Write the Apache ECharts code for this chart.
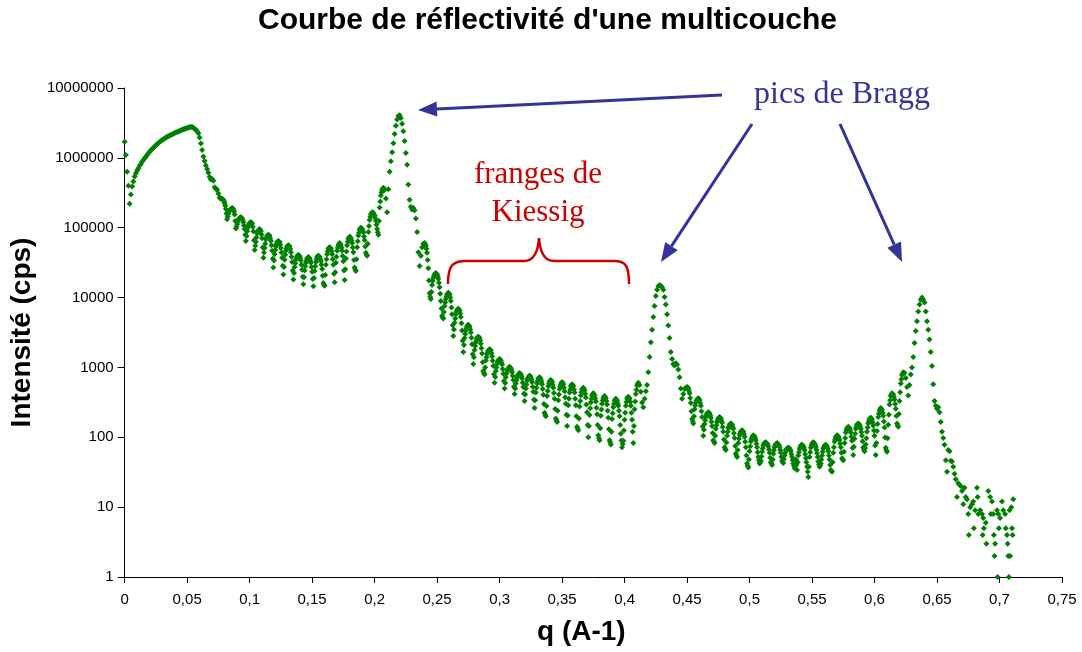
<!DOCTYPE html>
<html>
<head>
<meta charset="utf-8">
<script src="https://cdn.jsdelivr.net/npm/echarts@6/dist/echarts.min.js"></script>
<style>
  html, body { margin: 0; padding: 0; background: #ffffff; }
  #chart { width: 1082px; height: 652px; }
</style>
</head>
<body>
<div id="chart"></div>
<script>
// Measured reflectivity scan: pairs of [q (A-1), intensity (cps)], split by region.
const plateau = [
  [0.000,1.7e6],[0.001,1.1e6],[0.002,6.3e5],[0.003,4.0e5],[0.004,2.2e5],[0.005,3.0e5],[0.006,3.9e5],[0.007,4.6e5],[0.008,5.4e5],[0.009,6.0e5],
  [0.010,6.6e5],[0.011,7.1e5],[0.012,7.7e5],[0.013,8.2e5],[0.014,8.8e5],[0.015,9.3e5],[0.016,9.9e5],[0.017,1.04e6],[0.018,1.10e6],[0.019,1.16e6],
  [0.020,1.22e6],[0.021,1.28e6],[0.022,1.34e6],[0.023,1.40e6],[0.024,1.46e6],[0.025,1.52e6],[0.026,1.57e6],[0.027,1.63e6],[0.028,1.69e6],[0.029,1.75e6],
  [0.030,1.80e6],[0.031,1.85e6],[0.032,1.90e6],[0.033,1.95e6],[0.034,2.00e6],[0.035,2.04e6],[0.036,2.09e6],[0.037,2.13e6],[0.038,2.18e6],[0.039,2.22e6],
  [0.040,2.26e6],[0.041,2.30e6],[0.042,2.35e6],[0.043,2.39e6],[0.044,2.43e6],[0.045,2.48e6],[0.046,2.52e6],[0.047,2.56e6],[0.048,2.60e6],[0.049,2.64e6],
  [0.050,2.68e6],[0.051,2.71e6],[0.052,2.74e6],[0.053,2.76e6],[0.054,2.76e6],[0.055,2.70e6],[0.056,2.62e6],[0.057,2.52e6],[0.058,2.40e6],[0.059,2.25e6],
  [0.060,1.95e6],[0.061,1.60e6],[0.062,1.30e6],[0.063,1.05e6],[0.064,9.0e5],[0.065,7.8e5],[0.066,6.9e5],[0.067,6.1e5],[0.068,5.3e5],[0.069,4.9e5],
  [0.070,5.0e5],[0.071,4.7e5],[0.072,3.8e5],[0.073,3.6e5],[0.074,3.5e5],[0.075,3.1e5]
];

const lowFringes = [
  [0.076,2.69e5],[0.0765,2.66e5],[0.077,2.63e5],[0.0775,2.60e5],[0.078,2.57e5],[0.0785,2.55e5],[0.079,2.51e5],[0.0795,2.40e5],
  [0.080,2.24e5],[0.0805,2.06e5],[0.081,1.86e5],[0.0815,1.60e5],[0.082,1.32e5],[0.0825,1.45e5],[0.083,1.58e5],[0.0835,1.70e5],
  [0.084,1.78e5],[0.0845,1.83e5],[0.085,1.86e5],[0.0855,1.89e5],[0.086,1.91e5],[0.0865,1.88e5],[0.087,1.82e5],[0.0875,1.70e5],
  [0.088,1.55e5],[0.0885,1.25e5],[0.089,9.77e4],[0.0895,1.03e5],[0.090,1.12e5],[0.0905,1.21e5],[0.091,1.29e5],[0.0915,1.34e5],
  [0.092,1.38e5],[0.0925,1.40e5],[0.093,1.41e5],[0.0935,1.39e5],[0.094,1.35e5],[0.0945,1.28e5],[0.095,1.20e5],[0.0955,1.08e5],
  [0.096,9.55e4],[0.0965,7.9e4],[0.097,6.46e4],[0.0975,7.6e4],[0.098,8.91e4],[0.0985,9.9e4],[0.099,1.07e5],[0.0995,1.13e5],
  [0.100,1.17e5],[0.1005,1.19e5],[0.101,1.20e5],[0.1015,1.18e5],[0.102,1.15e5],[0.1025,1.03e5],[0.103,8.91e4],[0.1035,6.6e4],
  [0.104,4.79e4],[0.1045,5.5e4],[0.105,6.31e4],[0.1055,7.3e4],[0.106,8.32e4],[0.1065,8.8e4],[0.107,9.12e4],[0.1075,9.35e4],
  [0.108,9.55e4],[0.1085,9.3e4],[0.109,8.91e4],[0.1095,8.0e4],[0.110,7.08e4],[0.1105,5.2e4],[0.111,3.72e4],[0.1115,4.4e4],
  [0.112,5.13e4],[0.1125,5.9e4],[0.113,6.76e4],[0.1135,7.2e4],[0.114,7.59e4],[0.1145,7.8e4],[0.115,7.94e4],[0.1155,7.8e4],
  [0.116,7.59e4],[0.1165,7.0e4],[0.117,6.46e4],[0.1175,5.6e4],[0.118,4.68e4],[0.1185,3.6e4],[0.119,2.69e4],[0.1195,3.4e4],
  [0.120,4.17e4],[0.1205,4.8e4],[0.121,5.37e4],[0.1215,5.8e4],[0.122,6.17e4],[0.1225,6.35e4],[0.123,6.46e4],[0.1235,6.35e4],
  [0.124,6.17e4],[0.1245,5.7e4],[0.125,5.13e4],[0.1255,4.4e4],[0.126,3.72e4],[0.1265,2.85e4],[0.127,2.14e4],[0.1275,2.75e4],
  [0.128,3.47e4],[0.1285,4.1e4],[0.129,4.68e4],[0.1295,5.05e4],[0.130,5.37e4],[0.1305,5.52e4],[0.131,5.62e4],[0.1315,5.52e4],
  [0.132,5.37e4],[0.1325,4.95e4],[0.133,4.47e4],[0.1335,3.85e4],[0.134,3.24e4],[0.1345,2.45e4],[0.135,1.82e4],[0.1355,2.25e4],
  [0.136,2.75e4],[0.1365,3.1e4],[0.137,3.47e4],[0.1375,3.7e4],[0.138,3.89e4],[0.1385,4.0e4],[0.139,4.07e4],[0.1395,4.0e4],
  [0.140,3.89e4],[0.1405,3.65e4],[0.141,3.39e4],[0.1415,2.95e4],[0.142,2.51e4],[0.1425,1.98e4],[0.143,1.55e4],[0.1435,1.95e4],
  [0.144,2.45e4],[0.1445,2.8e4],[0.145,3.16e4],[0.1455,3.4e4],[0.146,3.63e4],[0.1465,3.73e4],[0.147,3.80e4],[0.1475,3.73e4],
  [0.148,3.63e4],[0.1485,3.4e4],[0.149,3.16e4],[0.1495,2.75e4],[0.150,2.34e4],[0.1505,1.85e4],[0.151,1.45e4],[0.1515,1.9e4],
  [0.152,2.40e4],[0.1525,2.8e4],[0.153,3.24e4],[0.1535,3.55e4],[0.154,3.80e4],[0.1545,3.9e4],[0.155,3.98e4],[0.1555,3.9e4],
  [0.156,3.80e4],[0.1565,3.55e4],[0.157,3.31e4],[0.1575,2.95e4],[0.158,2.57e4],[0.1585,2.05e4],[0.159,1.62e4],[0.1595,1.52e4],
  [0.160,1.48e4],[0.1605,2.1e4],[0.161,2.95e4],[0.1615,3.55e4],[0.162,4.17e4],[0.1625,4.6e4],[0.163,5.01e4],[0.1635,5.15e4],
  [0.164,5.25e4],[0.1645,5.15e4],[0.165,5.01e4],[0.1655,4.6e4],[0.166,4.17e4],[0.1665,3.55e4],[0.167,2.95e4],[0.1675,2.2e4],
  [0.168,1.66e4],[0.1685,2.3e4],[0.169,3.16e4],[0.1695,3.85e4],[0.170,4.68e4],[0.1705,5.15e4],[0.171,5.62e4],[0.1715,5.85e4],
  [0.172,6.03e4],[0.1725,5.85e4],[0.173,5.62e4],[0.1735,5.15e4],[0.174,4.68e4],[0.1745,3.95e4],[0.175,3.31e4],[0.1755,2.45e4],
  [0.176,1.78e4],[0.1765,2.55e4],[0.177,3.63e4],[0.1775,4.55e4],[0.178,5.62e4],[0.1785,6.3e4],[0.179,6.92e4],[0.1795,7.2e4],
  [0.180,7.41e4],[0.1805,7.3e4],[0.181,7.08e4],[0.1815,6.55e4],[0.182,6.03e4],[0.1825,5.2e4],[0.183,4.47e4],[0.1835,3.45e4],
  [0.184,2.69e4],[0.1845,2.5e4],[0.185,2.40e4],[0.1855,3.55e4],[0.186,5.25e4],[0.1865,6.4e4],[0.187,7.76e4],[0.1875,8.5e4],
  [0.188,9.33e4],[0.1885,9.7e4],[0.189,1.00e5],[0.1895,9.8e4],[0.190,9.55e4],[0.1905,9.0e4],[0.191,8.51e4],[0.1915,7.5e4],
  [0.192,6.61e4],[0.1925,5.4e4],[0.193,4.37e4],[0.1935,4.1e4],[0.194,3.98e4],[0.1945,5.9e4],[0.195,8.71e4],[0.1955,1.06e5],
  [0.196,1.29e5],[0.1965,1.42e5],[0.197,1.55e5],[0.1975,1.61e5],[0.198,1.66e5],[0.1985,1.64e5],[0.199,1.62e5],[0.1995,1.55e5],
  [0.200,1.48e5],[0.2005,1.37e5],[0.201,1.26e5],[0.2015,1.10e5],[0.202,9.55e4],[0.2025,8.6e4],[0.203,7.94e4],[0.2035,1.25e5],
  [0.204,1.95e5],[0.2045,2.37e5],[0.205,2.88e5],[0.2055,3.2e5],[0.206,3.47e5],[0.2065,3.6e5],[0.207,3.72e5]
];

const firstBragg = [
  [0.208,3.47e5],[0.209,2.63e5],[0.210,1.66e5],[0.211,3.55e5],[0.212,6.31e5],[0.213,8.91e5],[0.214,1.20e6],[0.215,1.62e6],[0.216,2.19e6],[0.217,2.88e6],
  [0.218,3.55e6],[0.219,3.98e6],[0.220,4.07e6],[0.221,3.72e6],[0.222,3.09e6],[0.223,2.40e6],[0.224,1.74e6],[0.225,1.17e6],[0.226,7.94e5],[0.227,4.17e5],
  [0.228,2.51e5],[0.229,2.00e5],[0.230,1.82e5],[0.231,1.91e5],[0.232,1.78e5],[0.233,1.35e5],[0.234,8.71e4],[0.235,4.47e4],[0.236,2.82e4],[0.237,3.98e4],
  [0.238,5.25e4],[0.239,5.89e4],[0.240,6.03e4]
];

const midFringes = [
  [0.2405,5.8e4],[0.241,5.50e4],[0.2415,5.0e4],[0.242,4.37e4],[0.2425,3.45e4],[0.243,2.63e4],[0.2435,1.75e4],[0.244,1.15e4],
  [0.2445,1.03e4],[0.245,9550],[0.2455,1.2e4],[0.246,1.51e4],[0.2465,1.72e4],[0.247,1.91e4],[0.2475,2.03e4],[0.248,2.14e4],
  [0.2485,2.2e4],[0.249,2.24e4],[0.2495,2.2e4],[0.250,2.14e4],[0.2505,2.0e4],[0.251,1.86e4],[0.2515,1.63e4],[0.252,1.41e4],
  [0.2525,1.13e4],[0.253,8910],[0.2535,7000],[0.254,5500],[0.2545,5200],[0.255,5010],[0.2555,6200],[0.256,7590],
  [0.2565,8500],[0.257,9550],[0.2575,1.03e4],[0.258,1.10e4],[0.2585,1.14e4],[0.259,1.17e4],[0.2595,1.14e4],[0.260,1.10e4],
  [0.2605,1.0e4],[0.261,8910],[0.2615,7200],[0.262,5750],[0.2625,4000],[0.263,2820],[0.2635,3500],[0.264,4370],
  [0.2645,5000],[0.265,5750],[0.2655,6200],[0.266,6610],[0.2665,6800],[0.267,6920],[0.2675,6750],[0.268,6460],
  [0.2685,5900],[0.269,5250],[0.2695,4300],[0.270,3390],[0.2705,2400],[0.271,1660],[0.2715,2100],[0.272,2630],
  [0.2725,3000],[0.273,3390],[0.2735,3650],[0.274,3890],[0.2745,4000],[0.275,4070],[0.2755,3950],[0.276,3800],
  [0.2765,3500],[0.277,3160],[0.2775,2650],[0.278,2140],[0.2785,1550],[0.279,1120],[0.2795,1400],[0.280,1780],
  [0.2805,2030],[0.281,2290],[0.2815,2460],[0.282,2630],[0.2825,2700],[0.283,2750],[0.2835,2700],[0.284,2630],
  [0.2845,2420],[0.285,2190],[0.2855,1880],[0.286,1580],[0.2865,1190],[0.287,891],[0.2875,830],[0.288,794],
  [0.2885,1000],[0.289,1260],[0.2895,1400],[0.290,1550],[0.2905,1650],[0.291,1740],[0.2915,1790],[0.292,1820],
  [0.2925,1790],[0.293,1740],[0.2935,1600],[0.294,1450],[0.2945,1250],[0.295,1050],[0.2955,800],[0.296,603],
  [0.2965,730],[0.297,891],[0.2975,1000],[0.298,1120],[0.2985,1190],[0.299,1260],[0.2995,1300],[0.300,1320],
  [0.3005,1300],[0.301,1260],[0.3015,1180],[0.302,1100],[0.3025,950],[0.303,813],[0.3035,640],[0.304,501],
  [0.3045,600],[0.305,724],[0.3055,810],[0.306,891],[0.3065,935],[0.307,977],[0.3075,1000],[0.308,1020],
  [0.3085,1000],[0.309,977],[0.3095,915],[0.310,851],[0.3105,760],[0.311,661],[0.3115,530],[0.312,417],
  [0.3125,500],[0.313,589],[0.3135,655],[0.314,724],[0.3145,760],[0.315,794],[0.3155,815],[0.316,832],
  [0.3165,815],[0.317,794],[0.3175,745],[0.318,692],[0.3185,605],[0.319,525],[0.3195,420],[0.320,331],
  [0.3205,410],[0.321,501],[0.3215,570],[0.322,646],[0.3225,690],[0.323,724],[0.3235,745],[0.324,759],
  [0.3245,745],[0.325,724],[0.3255,670],[0.326,617],[0.3265,530],[0.327,447],[0.3275,345],[0.328,263],
  [0.3285,340],[0.329,437],[0.3295,510],[0.330,589],[0.3305,640],[0.331,692],[0.3315,710],[0.332,724],
  [0.3325,705],[0.333,676],[0.3335,630],[0.334,575],[0.3345,490],[0.335,407],[0.3355,300],[0.336,224],
  [0.3365,210],[0.337,200],[0.3375,280],[0.338,389],[0.3385,460],[0.339,537],[0.3395,585],[0.340,631],
  [0.3405,650],[0.341,661],[0.3415,645],[0.342,617],[0.3425,565],[0.343,513],[0.3435,430],[0.344,355],
  [0.3445,255],[0.345,186],[0.3455,175],[0.346,166],[0.3465,240],[0.347,339],[0.3475,410],[0.348,490],
  [0.3485,535],[0.349,575],[0.3495,600],[0.350,617],[0.3505,600],[0.351,575],[0.3515,515],[0.352,457],
  [0.3525,375],[0.353,302],[0.3535,210],[0.354,145],[0.3545,205],[0.355,288],[0.3555,355],[0.356,437],
  [0.3565,485],[0.357,537],[0.3575,560],[0.358,575],[0.3585,560],[0.359,537],[0.3595,485],[0.360,437],
  [0.3605,355],[0.361,288],[0.3615,200],[0.362,141],[0.3625,133],[0.363,126],[0.3635,185],[0.364,275],
  [0.3645,330],[0.365,398],[0.3655,440],[0.366,479],[0.3665,500],[0.367,513],[0.3675,495],[0.368,468],
  [0.3685,420],[0.369,372],[0.3695,295],[0.370,229],[0.3705,150],[0.371,100],[0.3715,145],[0.372,209],
  [0.3725,260],[0.373,316],[0.3735,355],[0.374,398],[0.3745,415],[0.375,427],[0.3755,415],[0.376,398],
  [0.3765,360],[0.377,324],[0.3775,265],[0.378,214],[0.3785,150],[0.379,107],[0.3795,98],[0.380,91],
  [0.3805,135],[0.381,204],[0.3815,250],[0.382,302],[0.3825,335],[0.383,363],[0.3835,378],[0.384,389],
  [0.3845,378],[0.385,363],[0.3855,330],[0.386,295],[0.3865,240],[0.387,191],[0.3875,130],[0.388,91],
  [0.3885,85],[0.389,79],[0.3895,120],[0.390,182],[0.3905,220],[0.391,269],[0.3915,300],[0.392,331],
  [0.3925,345],[0.393,355],[0.3935,345],[0.394,331],[0.3945,305],[0.395,282],[0.3955,240],[0.396,200],
  [0.3965,150],[0.397,112],[0.3975,90],[0.398,72],[0.3985,80],[0.399,89],[0.3995,125],[0.400,178],
  [0.4005,225],[0.401,282],[0.4015,320],[0.402,355],[0.4025,370],[0.403,380],[0.4035,370],[0.404,355],
  [0.4045,320],[0.405,282],[0.4055,225],[0.406,178],[0.4065,120],[0.407,83],[0.4075,145],[0.408,251],
  [0.4085,325],[0.409,417],[0.4095,480],[0.410,550],[0.4105,580],[0.411,603]
];

const secondBragg = [
  [0.412,562],[0.413,447],[0.414,316],[0.415,269],[0.416,355],[0.417,457],[0.418,562],[0.419,851],[0.420,1410],[0.421,2290],
  [0.422,3470],[0.423,5250],[0.424,7590],[0.425,10500],[0.426,12900],[0.427,14500],[0.428,15100],[0.429,14800],[0.430,14100],[0.431,12900],
  [0.432,10200],[0.433,7940],[0.434,5750],[0.435,3980],[0.436,2630],[0.437,1660],[0.438,1320],[0.439,1120],[0.440,1070],[0.441,1150],
  [0.442,1100],[0.443,933],[0.444,724],[0.445,501],[0.446,355],[0.447,417],[0.448,490],[0.449,513],[0.450,525]
];

const highFringes = [
  [0.4505,515],[0.451,501],[0.4515,465],[0.452,427],[0.4525,365],[0.453,309],[0.4535,235],[0.454,182],
  [0.4545,168],[0.455,158],[0.4555,200],[0.456,251],[0.4565,285],[0.457,316],[0.4575,332],[0.458,347],
  [0.4585,356],[0.459,363],[0.4595,352],[0.460,339],[0.4605,310],[0.461,282],[0.4615,235],[0.462,195],
  [0.4625,143],[0.463,105],[0.4635,128],[0.464,155],[0.4645,175],[0.465,195],[0.4655,208],[0.466,219],
  [0.4665,225],[0.467,229],[0.4675,225],[0.468,219],[0.4685,205],[0.469,191],[0.4695,167],[0.470,145],
  [0.4705,115],[0.471,91],[0.4715,86],[0.472,83],[0.4725,105],[0.473,132],[0.4735,149],[0.474,166],
  [0.4745,176],[0.475,186],[0.4755,191],[0.476,195],[0.4765,191],[0.477,186],[0.4775,174],[0.478,162],
  [0.4785,140],[0.479,120],[0.4795,93],[0.480,72],[0.4805,68],[0.481,66],[0.4815,84],[0.482,105],
  [0.4825,120],[0.483,135],[0.4835,143],[0.484,151],[0.4845,155],[0.485,158],[0.4855,155],[0.486,151],
  [0.4865,142],[0.487,132],[0.4875,114],[0.488,98],[0.4885,75],[0.489,58],[0.4895,55],[0.490,52],
  [0.4905,66],[0.491,83],[0.4915,95],[0.492,107],[0.4925,114],[0.493,120],[0.4935,123],[0.494,126],
  [0.4945,123],[0.495,120],[0.4955,111],[0.496,102],[0.4965,86],[0.497,72],[0.4975,55],[0.498,42],
  [0.4985,39],[0.499,37],[0.4995,48],[0.500,63],[0.5005,74],[0.501,87],[0.5015,94],[0.502,100],
  [0.5025,104],[0.503,107],[0.5035,105],[0.504,102],[0.5045,97],[0.505,91],[0.5055,81],[0.506,72],
  [0.5065,61],[0.507,52],[0.5075,47],[0.508,42],[0.5085,44],[0.509,46],[0.5095,53],[0.510,62],
  [0.5105,69],[0.511,76],[0.5115,80],[0.512,83],[0.5125,84],[0.513,85],[0.5135,83],[0.514,81],
  [0.5145,78],[0.515,74],[0.5155,67],[0.516,60],[0.5165,51],[0.517,44],[0.5175,42],[0.518,40],
  [0.5185,48],[0.519,58],[0.5195,65],[0.520,72],[0.5205,76],[0.521,79],[0.5215,81],[0.522,83],
  [0.5225,81],[0.523,79],[0.5235,76],[0.524,72],[0.5245,66],[0.525,60],[0.5255,52],[0.526,46],
  [0.5265,44],[0.527,43],[0.5275,49],[0.528,55],[0.5285,60],[0.529,65],[0.5295,67],[0.530,69],
  [0.5305,70],[0.531,71],[0.5315,70],[0.532,69],[0.5325,66],[0.533,63],[0.5335,57],[0.534,52],
  [0.5345,47],[0.535,42],[0.5355,39],[0.536,36],[0.5365,41],[0.537,48],[0.5375,40],[0.538,34],
  [0.5385,44],[0.539,55],[0.5395,61],[0.540,68],[0.5405,72],[0.541,76],[0.5415,77],[0.542,78],
  [0.5425,76],[0.543,74],[0.5435,70],[0.544,65],[0.5445,57],[0.545,50],[0.5455,44],[0.546,38],
  [0.5465,32],[0.547,27],[0.5475,38],[0.548,52],[0.5485,61],[0.549,71],[0.5495,76],[0.550,81],
  [0.5505,83],[0.551,85],[0.5515,83],[0.552,81],[0.5525,77],[0.553,72],[0.5535,66],[0.554,59],
  [0.5545,52],[0.555,45],[0.5555,41],[0.556,38],[0.5565,40],[0.557,42],[0.5575,48],[0.558,55],
  [0.5585,62],[0.559,69],[0.5595,72],[0.560,76],[0.5605,77],[0.561,78],[0.5615,76],[0.562,74],
  [0.5625,69],[0.563,63],[0.5635,55],[0.564,48],[0.5645,40],[0.565,34],[0.5655,33],[0.566,32],
  [0.5665,44],[0.567,60],[0.5675,72],[0.568,87],[0.5685,93],[0.569,100],[0.5695,103],[0.570,107],
  [0.5705,105],[0.571,102],[0.5715,97],[0.572,91],[0.5725,81],[0.573,72],[0.5735,60],[0.574,50],
  [0.5745,48],[0.575,47],[0.5755,62],[0.576,83],[0.5765,98],[0.577,117],[0.5775,126],[0.578,135],
  [0.5785,138],[0.579,141],[0.5795,138],[0.580,135],[0.5805,126],[0.581,117],[0.5815,102],[0.582,89],
  [0.5825,70],[0.583,56],[0.5835,73],[0.584,95],[0.5845,112],[0.585,132],[0.5855,142],[0.586,151],
  [0.5865,155],[0.587,158],[0.5875,155],[0.588,151],[0.5885,142],[0.589,132],[0.5895,118],[0.590,105],
  [0.5905,88],[0.591,72],[0.5915,67],[0.592,63],[0.5925,70],[0.593,79],[0.5935,97],[0.594,120],
  [0.5945,138],[0.595,158],[0.5955,170],[0.596,182],[0.5965,187],[0.597,191],[0.5975,185],[0.598,178],
  [0.5985,163],[0.599,148],[0.5995,125],[0.600,105],[0.6005,76],[0.601,56],[0.6015,83],[0.602,123],
  [0.6025,155],[0.603,195],[0.6035,217],[0.604,240],[0.6045,252],[0.605,263],[0.6055,254],[0.606,245],
  [0.6065,224],[0.607,204],[0.6075,168],[0.608,138],[0.6085,99],[0.609,71],[0.6095,66],[0.610,62],
  [0.6105,97],[0.611,151],[0.6115,211],[0.612,295],[0.6125,340],[0.613,389],[0.6135,408],[0.614,427],
  [0.6145,417],[0.615,407],[0.6155,376],[0.616,347],[0.6165,300],[0.617,257],[0.6175,202],[0.618,158],
  [0.6185,149],[0.619,141],[0.6195,216],[0.620,331],[0.6205,442],[0.621,589],[0.6215,676],[0.622,776],
  [0.6225,813],[0.623,851]
];

const thirdBragg = [
  [0.624,832],[0.625,708],[0.626,525],[0.627,398],[0.628,562],[0.629,794],[0.630,1000],[0.631,1410],[0.632,2240],[0.633,3310],
  [0.634,4570],[0.635,6310],[0.636,7940],[0.637,9330],[0.638,10000],[0.639,9330],[0.640,8510],[0.641,6310],[0.642,4570],[0.643,3470],
  [0.644,2510],[0.645,1660],[0.646,1050],[0.647,575],[0.648,331],[0.649,282],[0.650,257],[0.651,269],[0.652,229],[0.653,166],
  [0.654,120],[0.655,98],[0.656,78],[0.657,47],[0.658,32],[0.659,66],[0.660,63],[0.661,46],[0.662,45],[0.663,38],
  [0.664,30],[0.665,25],[0.666,14]
];

const tail = [
  [0.667,22],[0.668,21],[0.669,20],[0.670,17],[0.671,11],[0.672,19],[0.673,14],[0.674,13],[0.675,8],[0.6755,4],
  [0.6765,10],[0.678,11],[0.679,12],[0.6795,5],[0.6805,9],[0.682,19],[0.6825,14],[0.683,8],[0.6845,9],[0.686,8],
  [0.6865,4],[0.687,7],[0.6875,5],[0.689,6],[0.6895,3],[0.691,17],[0.6925,14],[0.693,8],[0.694,12],[0.695,8],
  [0.6955,4],[0.696,2],[0.6965,3],[0.698,9],[0.6985,1],[0.699,8],[0.6995,5],[0.7005,7],[0.702,12],[0.703,9],
  [0.7045,8],[0.705,5],[0.706,4],[0.7065,3],[0.707,2],[0.7075,1],[0.708,9],[0.7085,2],[0.7095,10],[0.710,5],
  [0.7105,4],[0.711,13]
];

// Axis ranges and labels
const qRange = [0, 0.75];
const qStep = 0.05;
const intensityRange = [1, 1e7];
const chartTitle = "Courbe de réflectivité d'une multicouche";
const xTitle = 'q (A-1)';
const yTitle = 'Intensité (cps)';
const braggLabel = 'pics de Bragg';
const kiessigLabel = 'franges de\nKiessig';

const scan = [].concat(plateau, lowFringes, firstBragg, midFringes, secondBragg, highFringes, thirdBragg, tail);

const BLUE = '#333399';
const RED = '#cc0000';
const SANS = '"Liberation Sans", Arial, sans-serif';
const SERIF = '"Liberation Serif", "Times New Roman", serif';

// Straight arrow with a filled triangular head ending at the tip point
function arrow(x1, y1, x2, y2) {
  const dx = x2 - x1, dy = y2 - y1;
  const len = Math.sqrt(dx * dx + dy * dy);
  const ux = dx / len, uy = dy / len;
  const headLen = 19, headHalf = 7.5;
  const bx = x2 - ux * headLen, by = y2 - uy * headLen;
  return [
    { type: 'line', shape: { x1: x1, y1: y1, x2: bx, y2: by },
      style: { stroke: BLUE, lineWidth: 3 } },
    { type: 'polygon',
      shape: { points: [[x2, y2], [bx - uy * headHalf, by + ux * headHalf], [bx + uy * headHalf, by - ux * headHalf]] },
      style: { fill: BLUE } }
  ];
}

// Curly brace drawn as bezier pieces and straight runs
function bezier(x1, y1, cx1, cy1, cx2, cy2, x2, y2) {
  return { type: 'bezierCurve',
    shape: { x1: x1, y1: y1, cpx1: cx1, cpy1: cy1, cpx2: cx2, cpy2: cy2, x2: x2, y2: y2 },
    style: { stroke: RED, lineWidth: 2.5, fill: null } };
}
function run(x1, y1, x2, y2) {
  return { type: 'line', shape: { x1: x1, y1: y1, x2: x2, y2: y2 }, style: { stroke: RED, lineWidth: 2.5 } };
}
const brace = [
  bezier(448, 284, 448, 266, 452, 261, 466, 261),
  run(466, 261, 524, 261),
  bezier(524, 261, 534, 261, 538, 252, 539, 238),
  bezier(539, 238, 540, 252, 544, 261, 554, 261),
  run(554, 261, 614, 261),
  bezier(614, 261, 626, 261, 629, 266, 629, 284)
];

const chart = echarts.init(document.getElementById('chart'), null, { renderer: 'canvas' });

chart.setOption({
  animation: false,
  backgroundColor: '#ffffff',
  title: {
    text: chartTitle,
    left: 253,
    top: 1,
    textStyle: { fontFamily: SANS, fontWeight: 'bold', fontSize: 30, color: '#000' }
  },
  grid: { left: 123, right: 20, top: 88, bottom: 75 },
  xAxis: {
    type: 'value',
    min: qRange[0],
    max: qRange[1],
    interval: qStep,
    name: xTitle,
    nameLocation: 'middle',
    nameGap: 41,
    nameTextStyle: { fontFamily: SANS, fontWeight: 'bold', fontSize: 28, color: '#000', padding: [0, 24, 0, 0] },
    axisLine: { lineStyle: { color: '#000', width: 1 } },
    axisTick: { show: true, inside: false, length: 6, lineStyle: { color: '#000' } },
    axisLabel: {
      margin: 15,
      fontFamily: SANS,
      fontSize: 15,
      color: '#000',
      formatter: function (v) { return String(Math.round(v * 100) / 100).replace('.', ','); }
    },
    splitLine: { show: false }
  },
  yAxis: {
    type: 'log',
    logBase: 10,
    min: intensityRange[0],
    max: intensityRange[1],
    name: yTitle,
    nameLocation: 'middle',
    nameGap: 80,
    nameRotate: 90,
    nameTextStyle: { fontFamily: SANS, fontWeight: 'bold', fontSize: 28, color: '#000' },
    axisLine: { show: true, lineStyle: { color: '#000', width: 1 } },
    axisTick: { show: true, inside: false, length: 7, lineStyle: { color: '#000' } },
    axisLabel: {
      margin: 11,
      fontFamily: SANS,
      fontSize: 15,
      color: '#000',
      formatter: function (v) { return String(Math.round(v)); }
    },
    splitLine: { show: false },
    minorTick: { show: false }
  },
  series: [{
    name: 'Intensité',
    type: 'scatter',
    data: scan,
    symbol: 'diamond',
    symbolSize: 6,
    itemStyle: { color: '#008000', opacity: 1 },
    emphasis: { disabled: true }
  }],
  graphic: [].concat(
    [{
      type: 'text',
      x: 842, y: 95,
      style: { text: braggLabel, fill: BLUE, align: 'center', verticalAlign: 'middle', font: '32px ' + SERIF }
    }],
    arrow(722, 95, 418, 110),
    arrow(752, 124, 661, 262),
    arrow(840, 124, 902, 262),
    [{
      type: 'text',
      x: 538, y: 156,
      style: {
        text: kiessigLabel, fill: RED, align: 'center', verticalAlign: 'top', lineHeight: 38,
        font: '31px ' + SERIF
      }
    }],
    brace
  )
});
</script>
</body>
</html>
